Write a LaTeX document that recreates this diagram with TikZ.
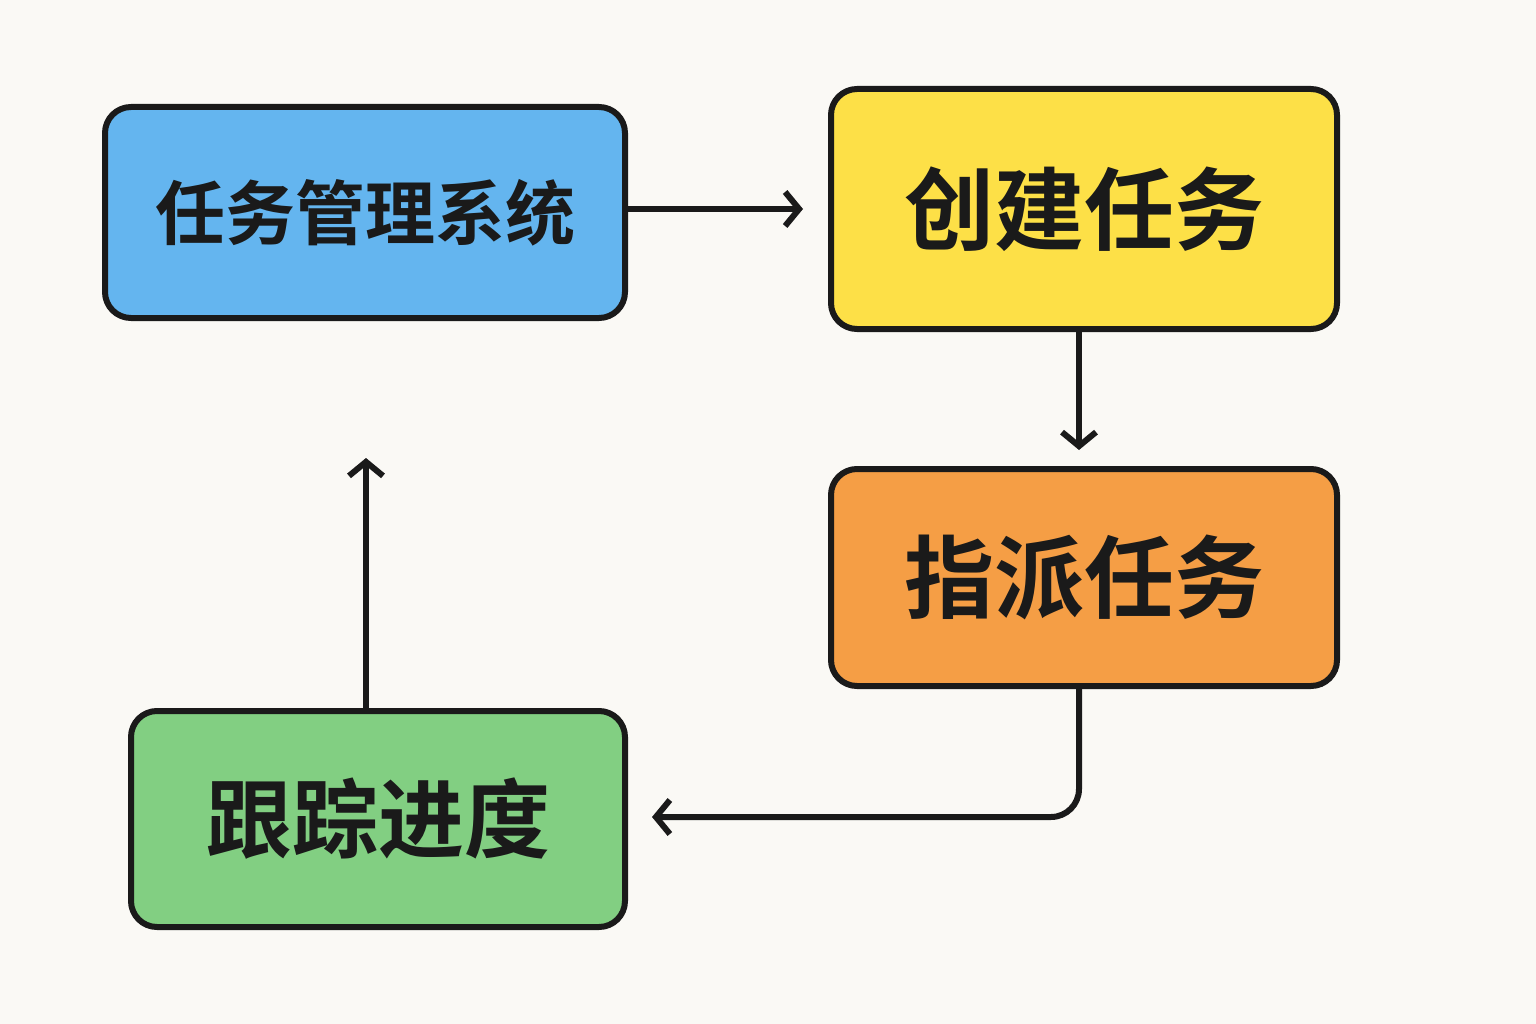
\documentclass[tikz,border=0pt]{standalone}
\usepackage{fontspec}
\newfontfamily\cjk{Noto Sans CJK SC}[BoldFont={Noto Sans CJK SC Bold}]
\usetikzlibrary{arrows.meta}
\definecolor{bg}{HTML}{FAF9F5}
\definecolor{cblue}{HTML}{64B5EF}
\definecolor{cyellow}{HTML}{FDE047}
\definecolor{corange}{HTML}{F59E45}
\definecolor{cgreen}{HTML}{82CF82}
\definecolor{ink}{HTML}{1A1A1A}
\begin{document}
\begin{tikzpicture}[x=1pt,y=-1pt,
  box/.style={draw=ink,line width=6pt,rounded corners=26pt,anchor=north west,inner sep=0pt,font=\cjk\bfseries,text=ink},
  arr/.style={draw=ink,line width=6pt,-{Straight Barb[length=14pt,width=34pt,line width=6pt]}}]
\fill[bg] (0,0) rectangle (1536,1024);
\node[box,fill=cblue,minimum width=520pt,minimum height=211pt,font=\cjk\bfseries\fontsize{70}{70}\selectfont] (a) at (102,104) {任务管理系统};
\node[box,fill=cyellow,minimum width=506pt,minimum height=240pt,font=\cjk\bfseries\fontsize{90}{90}\selectfont] (b) at (828,86) {创建任务};
\node[box,fill=corange,minimum width=506pt,minimum height=217pt,font=\cjk\bfseries\fontsize{90}{90}\selectfont] (c) at (828,466) {指派任务};
\node[box,fill=cgreen,minimum width=494pt,minimum height=216pt,font=\cjk\bfseries\fontsize{86}{86}\selectfont] (d) at (128,708) {跟踪进度};
\coordinate (bt) at (1079,450);
\coordinate (at) at (366,458);
\coordinate (dt) at (652,817);
\coordinate (bi) at (803,209);
\draw[arr] (a.east |- bi) -- (bi);
\draw[arr] (b.south -| bt) -- (bt);
\draw[arr,rounded corners=28pt] (c.south -| bt) -- (1079,817) -- (dt);
\draw[arr] (d.north -| at) -- (at);
\end{tikzpicture}
\end{document}
